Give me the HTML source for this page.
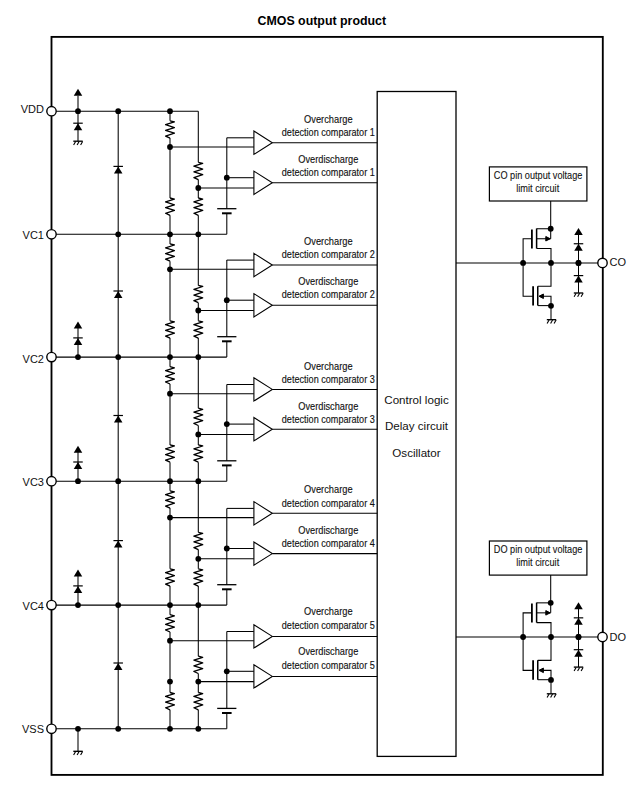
<!DOCTYPE html>
<html><head><meta charset="utf-8"><style>
html,body{margin:0;padding:0;background:#fff;}
svg{display:block;}
text{font-family:"Liberation Sans",sans-serif;}
</style></head><body>
<svg width="640" height="792" viewBox="0 0 640 792" stroke="#000" stroke-linecap="butt">
<text x="321.80" y="24.90" font-size="12" text-anchor="middle" font-weight="bold" fill="#000" stroke="none" textLength="128.5" lengthAdjust="spacingAndGlyphs">CMOS output product</text>
<rect x="51.5" y="36.9" width="551.3" height="738.0" fill="none" stroke="#000" stroke-width="1.85"/>
<line x1="118.20" y1="111.20" x2="118.20" y2="728.80" stroke-width="1.05"/>
<circle cx="118.20" cy="111.20" r="2.9" fill="#000" stroke="none"/>
<circle cx="118.20" cy="234.30" r="2.9" fill="#000" stroke="none"/>
<circle cx="118.20" cy="357.10" r="2.9" fill="#000" stroke="none"/>
<circle cx="118.20" cy="481.20" r="2.9" fill="#000" stroke="none"/>
<circle cx="118.20" cy="605.10" r="2.9" fill="#000" stroke="none"/>
<circle cx="118.20" cy="728.80" r="2.9" fill="#000" stroke="none"/>
<path d="M118.20,166.40 L122.45,173.40 L113.95,173.40Z" fill="#000" stroke="none"/>
<line x1="113.45" y1="166.40" x2="122.95" y2="166.40" stroke-width="1.2"/>
<path d="M118.20,291.00 L122.45,298.00 L113.95,298.00Z" fill="#000" stroke="none"/>
<line x1="113.45" y1="291.00" x2="122.95" y2="291.00" stroke-width="1.2"/>
<path d="M118.20,415.50 L122.45,422.50 L113.95,422.50Z" fill="#000" stroke="none"/>
<line x1="113.45" y1="415.50" x2="122.95" y2="415.50" stroke-width="1.2"/>
<path d="M118.20,540.60 L122.45,547.60 L113.95,547.60Z" fill="#000" stroke="none"/>
<line x1="113.45" y1="540.60" x2="122.95" y2="540.60" stroke-width="1.2"/>
<path d="M118.20,663.00 L122.45,670.00 L113.95,670.00Z" fill="#000" stroke="none"/>
<line x1="113.45" y1="663.00" x2="122.95" y2="663.00" stroke-width="1.2"/>
<line x1="51.50" y1="111.20" x2="198.30" y2="111.20" stroke-width="1.05"/>
<line x1="51.50" y1="234.30" x2="226.80" y2="234.30" stroke-width="1.05"/>
<line x1="51.50" y1="357.10" x2="226.80" y2="357.10" stroke-width="1.05"/>
<line x1="51.50" y1="481.20" x2="226.80" y2="481.20" stroke-width="1.05"/>
<line x1="51.50" y1="605.10" x2="226.80" y2="605.10" stroke-width="1.05"/>
<line x1="51.50" y1="728.80" x2="226.80" y2="728.80" stroke-width="1.05"/>
<line x1="78.00" y1="95.80" x2="78.00" y2="111.20" stroke-width="1.05"/>
<path d="M78.00,88.70 L82.25,95.70 L73.75,95.70Z" fill="#000" stroke="none"/>
<line x1="78.00" y1="111.20" x2="78.00" y2="141.20" stroke-width="1.05"/>
<path d="M78.00,123.20 L82.25,130.20 L73.75,130.20Z" fill="#000" stroke="none"/>
<line x1="73.25" y1="123.20" x2="82.75" y2="123.20" stroke-width="1.2"/>
<line x1="73.30" y1="141.20" x2="82.70" y2="141.20" stroke-width="1.35"/>
<line x1="75.60" y1="141.50" x2="73.60" y2="145.00" stroke-width="1.1"/>
<line x1="79.10" y1="141.50" x2="77.10" y2="145.00" stroke-width="1.1"/>
<line x1="82.60" y1="141.50" x2="80.60" y2="145.00" stroke-width="1.1"/>
<circle cx="78.00" cy="111.20" r="2.9" fill="#000" stroke="none"/>
<line x1="78.00" y1="327.60" x2="78.00" y2="357.10" stroke-width="1.05"/>
<path d="M78.00,321.60 L82.25,328.60 L73.75,328.60Z" fill="#000" stroke="none"/>
<path d="M78.00,337.90 L82.25,344.90 L73.75,344.90Z" fill="#000" stroke="none"/>
<line x1="73.25" y1="337.90" x2="82.75" y2="337.90" stroke-width="1.2"/>
<circle cx="78.00" cy="357.10" r="2.9" fill="#000" stroke="none"/>
<line x1="78.00" y1="451.70" x2="78.00" y2="481.20" stroke-width="1.05"/>
<path d="M78.00,445.70 L82.25,452.70 L73.75,452.70Z" fill="#000" stroke="none"/>
<path d="M78.00,462.00 L82.25,469.00 L73.75,469.00Z" fill="#000" stroke="none"/>
<line x1="73.25" y1="462.00" x2="82.75" y2="462.00" stroke-width="1.2"/>
<circle cx="78.00" cy="481.20" r="2.9" fill="#000" stroke="none"/>
<line x1="78.00" y1="575.60" x2="78.00" y2="605.10" stroke-width="1.05"/>
<path d="M78.00,569.60 L82.25,576.60 L73.75,576.60Z" fill="#000" stroke="none"/>
<path d="M78.00,585.90 L82.25,592.90 L73.75,592.90Z" fill="#000" stroke="none"/>
<line x1="73.25" y1="585.90" x2="82.75" y2="585.90" stroke-width="1.2"/>
<circle cx="78.00" cy="605.10" r="2.9" fill="#000" stroke="none"/>
<line x1="78.00" y1="728.80" x2="78.00" y2="751.30" stroke-width="1.05"/>
<line x1="73.30" y1="751.30" x2="82.70" y2="751.30" stroke-width="1.35"/>
<line x1="75.60" y1="751.60" x2="73.60" y2="755.10" stroke-width="1.1"/>
<line x1="79.10" y1="751.60" x2="77.10" y2="755.10" stroke-width="1.1"/>
<line x1="82.60" y1="751.60" x2="80.60" y2="755.10" stroke-width="1.1"/>
<circle cx="78.00" cy="728.80" r="2.9" fill="#000" stroke="none"/>
<circle cx="170.00" cy="111.20" r="2.9" fill="#000" stroke="none"/>
<line x1="170.00" y1="111.20" x2="170.00" y2="120.80" stroke-width="1.05"/>
<polyline points="170.00,120.80 174.40,121.90 165.60,124.74 174.40,127.57 165.60,130.41 174.40,133.24 165.60,136.08 170.00,138.10" fill="none" stroke-width="1.3" stroke-linejoin="round"/>
<line x1="170.00" y1="138.10" x2="170.00" y2="198.00" stroke-width="1.05"/>
<line x1="170.00" y1="215.30" x2="170.00" y2="234.30" stroke-width="1.05"/>
<circle cx="170.00" cy="147.00" r="2.9" fill="#000" stroke="none"/>
<polyline points="170.00,198.00 174.40,199.10 165.60,201.94 174.40,204.77 165.60,207.61 174.40,210.44 165.60,213.28 170.00,215.30" fill="none" stroke-width="1.3" stroke-linejoin="round"/>
<line x1="198.30" y1="111.20" x2="198.30" y2="162.30" stroke-width="1.05"/>
<polyline points="198.30,162.30 202.70,163.40 193.90,166.24 202.70,169.07 193.90,171.91 202.70,174.74 193.90,177.58 198.30,179.60" fill="none" stroke-width="1.3" stroke-linejoin="round"/>
<line x1="198.30" y1="179.60" x2="198.30" y2="198.00" stroke-width="1.05"/>
<line x1="198.30" y1="215.30" x2="198.30" y2="234.30" stroke-width="1.05"/>
<circle cx="198.30" cy="188.00" r="2.9" fill="#000" stroke="none"/>
<polyline points="198.30,198.00 202.70,199.10 193.90,201.94 202.70,204.77 193.90,207.61 202.70,210.44 193.90,213.28 198.30,215.30" fill="none" stroke-width="1.3" stroke-linejoin="round"/>
<line x1="226.80" y1="137.80" x2="226.80" y2="208.70" stroke-width="1.05"/>
<line x1="217.20" y1="208.70" x2="236.40" y2="208.70" stroke-width="1.3"/>
<line x1="222.00" y1="213.30" x2="231.60" y2="213.30" stroke-width="2.0"/>
<line x1="226.80" y1="213.30" x2="226.80" y2="234.30" stroke-width="1.05"/>
<circle cx="226.80" cy="177.70" r="2.9" fill="#000" stroke="none"/>
<line x1="226.80" y1="137.80" x2="253.90" y2="137.80" stroke-width="1.05"/>
<line x1="170.00" y1="147.00" x2="253.90" y2="147.00" stroke-width="1.05"/>
<line x1="226.80" y1="177.70" x2="253.90" y2="177.70" stroke-width="1.05"/>
<line x1="198.30" y1="188.00" x2="253.90" y2="188.00" stroke-width="1.05"/>
<path d="M253.90,131.05 L272.30,142.70 L253.90,154.35Z" fill="#fff" stroke="#000" stroke-width="1.1"/>
<line x1="272.30" y1="142.70" x2="377.20" y2="142.70" stroke-width="1.05"/>
<path d="M253.90,171.15 L272.30,182.80 L253.90,194.45Z" fill="#fff" stroke="#000" stroke-width="1.1"/>
<line x1="272.30" y1="182.80" x2="377.20" y2="182.80" stroke-width="1.05"/>
<text x="328.30" y="123.10" font-size="11.4" text-anchor="middle" font-weight="normal" fill="#111" stroke="#111" stroke-width="0.15" textLength="48.5" lengthAdjust="spacingAndGlyphs">Overcharge</text>
<text x="328.30" y="136.30" font-size="11.4" text-anchor="middle" font-weight="normal" fill="#111" stroke="#111" stroke-width="0.15" textLength="93" lengthAdjust="spacingAndGlyphs">detection comparator 1</text>
<text x="328.30" y="163.20" font-size="11.4" text-anchor="middle" font-weight="normal" fill="#111" stroke="#111" stroke-width="0.15" textLength="60" lengthAdjust="spacingAndGlyphs">Overdischarge</text>
<text x="328.30" y="176.40" font-size="11.4" text-anchor="middle" font-weight="normal" fill="#111" stroke="#111" stroke-width="0.15" textLength="93" lengthAdjust="spacingAndGlyphs">detection comparator 1</text>
<circle cx="170.00" cy="234.30" r="2.9" fill="#000" stroke="none"/>
<line x1="170.00" y1="234.30" x2="170.00" y2="243.90" stroke-width="1.05"/>
<polyline points="170.00,243.90 174.40,245.00 165.60,247.84 174.40,250.67 165.60,253.51 174.40,256.34 165.60,259.18 170.00,261.20" fill="none" stroke-width="1.3" stroke-linejoin="round"/>
<line x1="170.00" y1="261.20" x2="170.00" y2="320.80" stroke-width="1.05"/>
<line x1="170.00" y1="338.10" x2="170.00" y2="357.10" stroke-width="1.05"/>
<circle cx="170.00" cy="269.30" r="2.9" fill="#000" stroke="none"/>
<polyline points="170.00,320.80 174.40,321.90 165.60,324.74 174.40,327.57 165.60,330.41 174.40,333.24 165.60,336.08 170.00,338.10" fill="none" stroke-width="1.3" stroke-linejoin="round"/>
<circle cx="198.30" cy="234.30" r="2.9" fill="#000" stroke="none"/>
<line x1="198.30" y1="234.30" x2="198.30" y2="285.40" stroke-width="1.05"/>
<polyline points="198.30,285.40 202.70,286.50 193.90,289.34 202.70,292.17 193.90,295.01 202.70,297.84 193.90,300.68 198.30,302.70" fill="none" stroke-width="1.3" stroke-linejoin="round"/>
<line x1="198.30" y1="302.70" x2="198.30" y2="320.80" stroke-width="1.05"/>
<line x1="198.30" y1="338.10" x2="198.30" y2="357.10" stroke-width="1.05"/>
<circle cx="198.30" cy="310.50" r="2.9" fill="#000" stroke="none"/>
<polyline points="198.30,320.80 202.70,321.90 193.90,324.74 202.70,327.57 193.90,330.41 202.70,333.24 193.90,336.08 198.30,338.10" fill="none" stroke-width="1.3" stroke-linejoin="round"/>
<line x1="226.80" y1="260.10" x2="226.80" y2="336.70" stroke-width="1.05"/>
<line x1="217.20" y1="336.70" x2="236.40" y2="336.70" stroke-width="1.3"/>
<line x1="222.00" y1="341.30" x2="231.60" y2="341.30" stroke-width="2.0"/>
<line x1="226.80" y1="341.30" x2="226.80" y2="357.10" stroke-width="1.05"/>
<circle cx="226.80" cy="300.20" r="2.9" fill="#000" stroke="none"/>
<line x1="226.80" y1="260.10" x2="253.90" y2="260.10" stroke-width="1.05"/>
<line x1="170.00" y1="269.30" x2="253.90" y2="269.30" stroke-width="1.05"/>
<line x1="226.80" y1="300.20" x2="253.90" y2="300.20" stroke-width="1.05"/>
<line x1="198.30" y1="310.50" x2="253.90" y2="310.50" stroke-width="1.05"/>
<path d="M253.90,253.35 L272.30,265.00 L253.90,276.65Z" fill="#fff" stroke="#000" stroke-width="1.1"/>
<line x1="272.30" y1="265.00" x2="377.20" y2="265.00" stroke-width="1.05"/>
<path d="M253.90,293.65 L272.30,305.30 L253.90,316.95Z" fill="#fff" stroke="#000" stroke-width="1.1"/>
<line x1="272.30" y1="305.30" x2="377.20" y2="305.30" stroke-width="1.05"/>
<text x="328.30" y="244.90" font-size="11.4" text-anchor="middle" font-weight="normal" fill="#111" stroke="#111" stroke-width="0.15" textLength="48.5" lengthAdjust="spacingAndGlyphs">Overcharge</text>
<text x="328.30" y="258.10" font-size="11.4" text-anchor="middle" font-weight="normal" fill="#111" stroke="#111" stroke-width="0.15" textLength="93" lengthAdjust="spacingAndGlyphs">detection comparator 2</text>
<text x="328.30" y="285.20" font-size="11.4" text-anchor="middle" font-weight="normal" fill="#111" stroke="#111" stroke-width="0.15" textLength="60" lengthAdjust="spacingAndGlyphs">Overdischarge</text>
<text x="328.30" y="298.40" font-size="11.4" text-anchor="middle" font-weight="normal" fill="#111" stroke="#111" stroke-width="0.15" textLength="93" lengthAdjust="spacingAndGlyphs">detection comparator 2</text>
<circle cx="170.00" cy="357.10" r="2.9" fill="#000" stroke="none"/>
<line x1="170.00" y1="357.10" x2="170.00" y2="366.70" stroke-width="1.05"/>
<polyline points="170.00,366.70 174.40,367.80 165.60,370.64 174.40,373.47 165.60,376.31 174.40,379.14 165.60,381.98 170.00,384.00" fill="none" stroke-width="1.3" stroke-linejoin="round"/>
<line x1="170.00" y1="384.00" x2="170.00" y2="444.90" stroke-width="1.05"/>
<line x1="170.00" y1="462.20" x2="170.00" y2="481.20" stroke-width="1.05"/>
<circle cx="170.00" cy="393.70" r="2.9" fill="#000" stroke="none"/>
<polyline points="170.00,444.90 174.40,446.00 165.60,448.84 174.40,451.67 165.60,454.51 174.40,457.34 165.60,460.18 170.00,462.20" fill="none" stroke-width="1.3" stroke-linejoin="round"/>
<circle cx="198.30" cy="357.10" r="2.9" fill="#000" stroke="none"/>
<line x1="198.30" y1="357.10" x2="198.30" y2="408.20" stroke-width="1.05"/>
<polyline points="198.30,408.20 202.70,409.30 193.90,412.14 202.70,414.97 193.90,417.81 202.70,420.64 193.90,423.48 198.30,425.50" fill="none" stroke-width="1.3" stroke-linejoin="round"/>
<line x1="198.30" y1="425.50" x2="198.30" y2="444.90" stroke-width="1.05"/>
<line x1="198.30" y1="462.20" x2="198.30" y2="481.20" stroke-width="1.05"/>
<circle cx="198.30" cy="434.40" r="2.9" fill="#000" stroke="none"/>
<polyline points="198.30,444.90 202.70,446.00 193.90,448.84 202.70,451.67 193.90,454.51 202.70,457.34 193.90,460.18 198.30,462.20" fill="none" stroke-width="1.3" stroke-linejoin="round"/>
<line x1="226.80" y1="384.50" x2="226.80" y2="460.80" stroke-width="1.05"/>
<line x1="217.20" y1="460.80" x2="236.40" y2="460.80" stroke-width="1.3"/>
<line x1="222.00" y1="465.40" x2="231.60" y2="465.40" stroke-width="2.0"/>
<line x1="226.80" y1="465.40" x2="226.80" y2="481.20" stroke-width="1.05"/>
<circle cx="226.80" cy="424.10" r="2.9" fill="#000" stroke="none"/>
<line x1="226.80" y1="384.50" x2="253.90" y2="384.50" stroke-width="1.05"/>
<line x1="170.00" y1="393.70" x2="253.90" y2="393.70" stroke-width="1.05"/>
<line x1="226.80" y1="424.10" x2="253.90" y2="424.10" stroke-width="1.05"/>
<line x1="198.30" y1="434.40" x2="253.90" y2="434.40" stroke-width="1.05"/>
<path d="M253.90,377.75 L272.30,389.40 L253.90,401.05Z" fill="#fff" stroke="#000" stroke-width="1.1"/>
<line x1="272.30" y1="389.40" x2="377.20" y2="389.40" stroke-width="1.05"/>
<path d="M253.90,417.55 L272.30,429.20 L253.90,440.85Z" fill="#fff" stroke="#000" stroke-width="1.1"/>
<line x1="272.30" y1="429.20" x2="377.20" y2="429.20" stroke-width="1.05"/>
<text x="328.30" y="369.90" font-size="11.4" text-anchor="middle" font-weight="normal" fill="#111" stroke="#111" stroke-width="0.15" textLength="48.5" lengthAdjust="spacingAndGlyphs">Overcharge</text>
<text x="328.30" y="383.10" font-size="11.4" text-anchor="middle" font-weight="normal" fill="#111" stroke="#111" stroke-width="0.15" textLength="93" lengthAdjust="spacingAndGlyphs">detection comparator 3</text>
<text x="328.30" y="409.70" font-size="11.4" text-anchor="middle" font-weight="normal" fill="#111" stroke="#111" stroke-width="0.15" textLength="60" lengthAdjust="spacingAndGlyphs">Overdischarge</text>
<text x="328.30" y="422.90" font-size="11.4" text-anchor="middle" font-weight="normal" fill="#111" stroke="#111" stroke-width="0.15" textLength="93" lengthAdjust="spacingAndGlyphs">detection comparator 3</text>
<circle cx="170.00" cy="481.20" r="2.9" fill="#000" stroke="none"/>
<line x1="170.00" y1="481.20" x2="170.00" y2="490.80" stroke-width="1.05"/>
<polyline points="170.00,490.80 174.40,491.90 165.60,494.74 174.40,497.57 165.60,500.41 174.40,503.24 165.60,506.08 170.00,508.10" fill="none" stroke-width="1.3" stroke-linejoin="round"/>
<line x1="170.00" y1="508.10" x2="170.00" y2="568.80" stroke-width="1.05"/>
<line x1="170.00" y1="586.10" x2="170.00" y2="605.10" stroke-width="1.05"/>
<circle cx="170.00" cy="517.60" r="2.9" fill="#000" stroke="none"/>
<polyline points="170.00,568.80 174.40,569.90 165.60,572.74 174.40,575.57 165.60,578.41 174.40,581.24 165.60,584.08 170.00,586.10" fill="none" stroke-width="1.3" stroke-linejoin="round"/>
<circle cx="198.30" cy="481.20" r="2.9" fill="#000" stroke="none"/>
<line x1="198.30" y1="481.20" x2="198.30" y2="532.30" stroke-width="1.05"/>
<polyline points="198.30,532.30 202.70,533.40 193.90,536.24 202.70,539.07 193.90,541.91 202.70,544.74 193.90,547.58 198.30,549.60" fill="none" stroke-width="1.3" stroke-linejoin="round"/>
<line x1="198.30" y1="549.60" x2="198.30" y2="568.80" stroke-width="1.05"/>
<line x1="198.30" y1="586.10" x2="198.30" y2="605.10" stroke-width="1.05"/>
<circle cx="198.30" cy="558.80" r="2.9" fill="#000" stroke="none"/>
<polyline points="198.30,568.80 202.70,569.90 193.90,572.74 202.70,575.57 193.90,578.41 202.70,581.24 193.90,584.08 198.30,586.10" fill="none" stroke-width="1.3" stroke-linejoin="round"/>
<line x1="226.80" y1="508.40" x2="226.80" y2="584.70" stroke-width="1.05"/>
<line x1="217.20" y1="584.70" x2="236.40" y2="584.70" stroke-width="1.3"/>
<line x1="222.00" y1="589.30" x2="231.60" y2="589.30" stroke-width="2.0"/>
<line x1="226.80" y1="589.30" x2="226.80" y2="605.10" stroke-width="1.05"/>
<circle cx="226.80" cy="548.50" r="2.9" fill="#000" stroke="none"/>
<line x1="226.80" y1="508.40" x2="253.90" y2="508.40" stroke-width="1.05"/>
<line x1="170.00" y1="517.60" x2="253.90" y2="517.60" stroke-width="1.05"/>
<line x1="226.80" y1="548.50" x2="253.90" y2="548.50" stroke-width="1.05"/>
<line x1="198.30" y1="558.80" x2="253.90" y2="558.80" stroke-width="1.05"/>
<path d="M253.90,501.65 L272.30,513.30 L253.90,524.95Z" fill="#fff" stroke="#000" stroke-width="1.1"/>
<line x1="272.30" y1="513.30" x2="377.20" y2="513.30" stroke-width="1.05"/>
<path d="M253.90,541.95 L272.30,553.60 L253.90,565.25Z" fill="#fff" stroke="#000" stroke-width="1.1"/>
<line x1="272.30" y1="553.60" x2="377.20" y2="553.60" stroke-width="1.05"/>
<text x="328.30" y="493.30" font-size="11.4" text-anchor="middle" font-weight="normal" fill="#111" stroke="#111" stroke-width="0.15" textLength="48.5" lengthAdjust="spacingAndGlyphs">Overcharge</text>
<text x="328.30" y="506.50" font-size="11.4" text-anchor="middle" font-weight="normal" fill="#111" stroke="#111" stroke-width="0.15" textLength="93" lengthAdjust="spacingAndGlyphs">detection comparator 4</text>
<text x="328.30" y="533.60" font-size="11.4" text-anchor="middle" font-weight="normal" fill="#111" stroke="#111" stroke-width="0.15" textLength="60" lengthAdjust="spacingAndGlyphs">Overdischarge</text>
<text x="328.30" y="546.80" font-size="11.4" text-anchor="middle" font-weight="normal" fill="#111" stroke="#111" stroke-width="0.15" textLength="93" lengthAdjust="spacingAndGlyphs">detection comparator 4</text>
<circle cx="170.00" cy="605.10" r="2.9" fill="#000" stroke="none"/>
<line x1="170.00" y1="605.10" x2="170.00" y2="614.70" stroke-width="1.05"/>
<polyline points="170.00,614.70 174.40,615.80 165.60,618.64 174.40,621.47 165.60,624.31 174.40,627.14 165.60,629.98 170.00,632.00" fill="none" stroke-width="1.3" stroke-linejoin="round"/>
<line x1="170.00" y1="632.00" x2="170.00" y2="692.50" stroke-width="1.05"/>
<line x1="170.00" y1="709.80" x2="170.00" y2="728.80" stroke-width="1.05"/>
<circle cx="170.00" cy="640.70" r="2.9" fill="#000" stroke="none"/>
<polyline points="170.00,692.50 174.40,693.60 165.60,696.44 174.40,699.27 165.60,702.11 174.40,704.94 165.60,707.78 170.00,709.80" fill="none" stroke-width="1.3" stroke-linejoin="round"/>
<circle cx="198.30" cy="605.10" r="2.9" fill="#000" stroke="none"/>
<line x1="198.30" y1="605.10" x2="198.30" y2="656.20" stroke-width="1.05"/>
<polyline points="198.30,656.20 202.70,657.30 193.90,660.14 202.70,662.97 193.90,665.81 202.70,668.64 193.90,671.48 198.30,673.50" fill="none" stroke-width="1.3" stroke-linejoin="round"/>
<line x1="198.30" y1="673.50" x2="198.30" y2="692.50" stroke-width="1.05"/>
<line x1="198.30" y1="709.80" x2="198.30" y2="728.80" stroke-width="1.05"/>
<circle cx="198.30" cy="681.60" r="2.9" fill="#000" stroke="none"/>
<polyline points="198.30,692.50 202.70,693.60 193.90,696.44 202.70,699.27 193.90,702.11 202.70,704.94 193.90,707.78 198.30,709.80" fill="none" stroke-width="1.3" stroke-linejoin="round"/>
<circle cx="170.00" cy="681.60" r="2.9" fill="#000" stroke="none"/>
<line x1="226.80" y1="631.50" x2="226.80" y2="708.40" stroke-width="1.05"/>
<line x1="217.20" y1="708.40" x2="236.40" y2="708.40" stroke-width="1.3"/>
<line x1="222.00" y1="713.00" x2="231.60" y2="713.00" stroke-width="2.0"/>
<line x1="226.80" y1="713.00" x2="226.80" y2="728.80" stroke-width="1.05"/>
<circle cx="226.80" cy="671.30" r="2.9" fill="#000" stroke="none"/>
<line x1="226.80" y1="631.50" x2="253.90" y2="631.50" stroke-width="1.05"/>
<line x1="170.00" y1="640.70" x2="253.90" y2="640.70" stroke-width="1.05"/>
<line x1="226.80" y1="671.30" x2="253.90" y2="671.30" stroke-width="1.05"/>
<line x1="198.30" y1="681.60" x2="253.90" y2="681.60" stroke-width="1.05"/>
<path d="M253.90,624.75 L272.30,636.40 L253.90,648.05Z" fill="#fff" stroke="#000" stroke-width="1.1"/>
<line x1="272.30" y1="636.40" x2="377.20" y2="636.40" stroke-width="1.05"/>
<path d="M253.90,664.75 L272.30,676.40 L253.90,688.05Z" fill="#fff" stroke="#000" stroke-width="1.1"/>
<line x1="272.30" y1="676.40" x2="377.20" y2="676.40" stroke-width="1.05"/>
<text x="328.30" y="615.30" font-size="11.4" text-anchor="middle" font-weight="normal" fill="#111" stroke="#111" stroke-width="0.15" textLength="48.5" lengthAdjust="spacingAndGlyphs">Overcharge</text>
<text x="328.30" y="628.50" font-size="11.4" text-anchor="middle" font-weight="normal" fill="#111" stroke="#111" stroke-width="0.15" textLength="93" lengthAdjust="spacingAndGlyphs">detection comparator 5</text>
<text x="328.30" y="655.30" font-size="11.4" text-anchor="middle" font-weight="normal" fill="#111" stroke="#111" stroke-width="0.15" textLength="60" lengthAdjust="spacingAndGlyphs">Overdischarge</text>
<text x="328.30" y="668.50" font-size="11.4" text-anchor="middle" font-weight="normal" fill="#111" stroke="#111" stroke-width="0.15" textLength="93" lengthAdjust="spacingAndGlyphs">detection comparator 5</text>
<circle cx="170.00" cy="728.80" r="2.9" fill="#000" stroke="none"/>
<circle cx="198.30" cy="728.80" r="2.9" fill="#000" stroke="none"/>
<rect x="377.2" y="91.5" width="78.80000000000001" height="664.9" fill="none" stroke="#000" stroke-width="1.3"/>
<text x="416.50" y="403.75" font-size="11.6" text-anchor="middle" font-weight="normal" fill="#111" stroke="none">Control logic</text>
<text x="416.50" y="429.70" font-size="11.6" text-anchor="middle" font-weight="normal" fill="#111" stroke="none">Delay circuit</text>
<text x="416.50" y="456.60" font-size="11.6" text-anchor="middle" font-weight="normal" fill="#111" stroke="none">Oscillator</text>
<line x1="456.00" y1="262.90" x2="602.50" y2="262.90" stroke-width="1.05"/>
<circle cx="523.10" cy="262.90" r="2.9" fill="#000" stroke="none"/>
<circle cx="551.00" cy="262.90" r="2.9" fill="#000" stroke="none"/>
<circle cx="578.50" cy="262.90" r="2.9" fill="#000" stroke="none"/>
<rect x="489.4" y="166.90" width="97.5" height="34.1" fill="#fff" stroke="#000" stroke-width="1.2"/>
<text x="538.10" y="178.50" font-size="10.5" text-anchor="middle" font-weight="normal" fill="#111" stroke="#111" stroke-width="0.1" textLength="88.5" lengthAdjust="spacingAndGlyphs">CO pin output voltage</text>
<text x="537.70" y="191.60" font-size="10.5" text-anchor="middle" font-weight="normal" fill="#111" stroke="#111" stroke-width="0.1" textLength="43" lengthAdjust="spacingAndGlyphs">limit circuit</text>
<line x1="550.70" y1="201.00" x2="550.70" y2="228.75" stroke-width="1.05"/>
<circle cx="550.70" cy="228.75" r="2.9" fill="#000" stroke="none"/>
<line x1="550.70" y1="228.75" x2="550.70" y2="238.75" stroke-width="1.05"/>
<line x1="536.60" y1="228.75" x2="550.70" y2="228.75" stroke-width="1.05"/>
<line x1="536.60" y1="228.50" x2="536.60" y2="248.50" stroke-width="1.5"/>
<line x1="531.90" y1="229.40" x2="531.90" y2="248.50" stroke-width="1.8"/>
<polyline points="523.10,262.90 523.10,238.75 531.90,238.75" fill="none" stroke-width="1.05"/>
<line x1="536.60" y1="238.75" x2="550.70" y2="238.75" stroke-width="1.05"/>
<path d="M550.2,238.75 L545.8,236.50 L545.8,241.00Z" fill="#000"/>
<polyline points="536.60,248.50 551.00,248.50 551.00,262.90" fill="none" stroke-width="1.05"/>
<polyline points="523.10,262.90 523.10,296.25 533.10,296.25" fill="none" stroke-width="1.05"/>
<line x1="533.10" y1="286.25" x2="533.10" y2="305.60" stroke-width="1.8"/>
<line x1="537.75" y1="286.25" x2="537.75" y2="305.60" stroke-width="1.5"/>
<polyline points="537.75,286.25 551.00,286.25 551.00,262.90" fill="none" stroke-width="1.05"/>
<polyline points="539.50,296.25 551.00,296.25 551.00,305.80" fill="none" stroke-width="1.05"/>
<path d="M539.0,296.25 L543.4,294.00 L543.4,298.50Z" fill="#000"/>
<line x1="537.75" y1="305.60" x2="551.00" y2="305.60" stroke-width="1.05"/>
<circle cx="551.00" cy="305.80" r="2.9" fill="#000" stroke="none"/>
<line x1="551.00" y1="305.80" x2="551.00" y2="319.70" stroke-width="1.05"/>
<line x1="546.80" y1="319.70" x2="556.20" y2="319.70" stroke-width="1.35"/>
<line x1="549.10" y1="320.00" x2="547.10" y2="323.50" stroke-width="1.1"/>
<line x1="552.60" y1="320.00" x2="550.60" y2="323.50" stroke-width="1.1"/>
<line x1="556.10" y1="320.00" x2="554.10" y2="323.50" stroke-width="1.1"/>
<line x1="578.50" y1="233.90" x2="578.50" y2="292.90" stroke-width="1.05"/>
<path d="M578.50,228.10 L582.75,235.10 L574.25,235.10Z" fill="#000" stroke="none"/>
<path d="M578.50,243.75 L582.75,250.75 L574.25,250.75Z" fill="#000" stroke="none"/>
<line x1="573.75" y1="243.75" x2="583.25" y2="243.75" stroke-width="1.2"/>
<path d="M578.50,275.60 L582.75,282.60 L574.25,282.60Z" fill="#000" stroke="none"/>
<line x1="573.75" y1="275.60" x2="583.25" y2="275.60" stroke-width="1.2"/>
<line x1="573.80" y1="293.00" x2="583.20" y2="293.00" stroke-width="1.35"/>
<line x1="576.10" y1="293.30" x2="574.10" y2="296.80" stroke-width="1.1"/>
<line x1="579.60" y1="293.30" x2="577.60" y2="296.80" stroke-width="1.1"/>
<line x1="583.10" y1="293.30" x2="581.10" y2="296.80" stroke-width="1.1"/>
<circle cx="578.50" cy="262.90" r="2.9" fill="#000" stroke="none"/>
<circle cx="602.50" cy="262.90" r="4.7" fill="#fff" stroke="#000" stroke-width="1.4"/>
<text x="609.50" y="265.80" font-size="11" text-anchor="start" font-weight="normal" fill="#111" stroke="none">CO</text>
<line x1="456.00" y1="637.00" x2="602.50" y2="637.00" stroke-width="1.05"/>
<circle cx="523.10" cy="637.00" r="2.9" fill="#000" stroke="none"/>
<circle cx="551.00" cy="637.00" r="2.9" fill="#000" stroke="none"/>
<circle cx="578.50" cy="637.00" r="2.9" fill="#000" stroke="none"/>
<rect x="489.4" y="541.00" width="97.5" height="34.1" fill="#fff" stroke="#000" stroke-width="1.2"/>
<text x="538.10" y="552.60" font-size="10.5" text-anchor="middle" font-weight="normal" fill="#111" stroke="#111" stroke-width="0.1" textLength="88.5" lengthAdjust="spacingAndGlyphs">DO pin output voltage</text>
<text x="537.70" y="565.70" font-size="10.5" text-anchor="middle" font-weight="normal" fill="#111" stroke="#111" stroke-width="0.1" textLength="43" lengthAdjust="spacingAndGlyphs">limit circuit</text>
<line x1="550.70" y1="575.10" x2="550.70" y2="602.85" stroke-width="1.05"/>
<circle cx="550.70" cy="602.85" r="2.9" fill="#000" stroke="none"/>
<line x1="550.70" y1="602.85" x2="550.70" y2="612.85" stroke-width="1.05"/>
<line x1="536.60" y1="602.85" x2="550.70" y2="602.85" stroke-width="1.05"/>
<line x1="536.60" y1="602.60" x2="536.60" y2="622.60" stroke-width="1.5"/>
<line x1="531.90" y1="603.50" x2="531.90" y2="622.60" stroke-width="1.8"/>
<polyline points="523.10,637.00 523.10,612.85 531.90,612.85" fill="none" stroke-width="1.05"/>
<line x1="536.60" y1="612.85" x2="550.70" y2="612.85" stroke-width="1.05"/>
<path d="M550.2,612.85 L545.8,610.60 L545.8,615.10Z" fill="#000"/>
<polyline points="536.60,622.60 551.00,622.60 551.00,637.00" fill="none" stroke-width="1.05"/>
<polyline points="523.10,637.00 523.10,670.35 533.10,670.35" fill="none" stroke-width="1.05"/>
<line x1="533.10" y1="660.35" x2="533.10" y2="679.70" stroke-width="1.8"/>
<line x1="537.75" y1="660.35" x2="537.75" y2="679.70" stroke-width="1.5"/>
<polyline points="537.75,660.35 551.00,660.35 551.00,637.00" fill="none" stroke-width="1.05"/>
<polyline points="539.50,670.35 551.00,670.35 551.00,679.90" fill="none" stroke-width="1.05"/>
<path d="M539.0,670.35 L543.4,668.10 L543.4,672.60Z" fill="#000"/>
<line x1="537.75" y1="679.70" x2="551.00" y2="679.70" stroke-width="1.05"/>
<circle cx="551.00" cy="679.90" r="2.9" fill="#000" stroke="none"/>
<line x1="551.00" y1="679.90" x2="551.00" y2="693.80" stroke-width="1.05"/>
<line x1="546.80" y1="693.80" x2="556.20" y2="693.80" stroke-width="1.35"/>
<line x1="549.10" y1="694.10" x2="547.10" y2="697.60" stroke-width="1.1"/>
<line x1="552.60" y1="694.10" x2="550.60" y2="697.60" stroke-width="1.1"/>
<line x1="556.10" y1="694.10" x2="554.10" y2="697.60" stroke-width="1.1"/>
<line x1="578.50" y1="608.00" x2="578.50" y2="667.00" stroke-width="1.05"/>
<path d="M578.50,602.20 L582.75,609.20 L574.25,609.20Z" fill="#000" stroke="none"/>
<path d="M578.50,617.85 L582.75,624.85 L574.25,624.85Z" fill="#000" stroke="none"/>
<line x1="573.75" y1="617.85" x2="583.25" y2="617.85" stroke-width="1.2"/>
<path d="M578.50,649.70 L582.75,656.70 L574.25,656.70Z" fill="#000" stroke="none"/>
<line x1="573.75" y1="649.70" x2="583.25" y2="649.70" stroke-width="1.2"/>
<line x1="573.80" y1="667.10" x2="583.20" y2="667.10" stroke-width="1.35"/>
<line x1="576.10" y1="667.40" x2="574.10" y2="670.90" stroke-width="1.1"/>
<line x1="579.60" y1="667.40" x2="577.60" y2="670.90" stroke-width="1.1"/>
<line x1="583.10" y1="667.40" x2="581.10" y2="670.90" stroke-width="1.1"/>
<circle cx="578.50" cy="637.00" r="2.9" fill="#000" stroke="none"/>
<circle cx="602.50" cy="637.00" r="4.7" fill="#fff" stroke="#000" stroke-width="1.4"/>
<text x="609.50" y="640.90" font-size="11" text-anchor="start" font-weight="normal" fill="#111" stroke="none">DO</text>
<circle cx="51.50" cy="111.20" r="4.7" fill="#fff" stroke="#000" stroke-width="1.4"/>
<text x="44.00" y="113.40" font-size="11" text-anchor="end" font-weight="normal" fill="#111" stroke="none">VDD</text>
<circle cx="51.50" cy="234.30" r="4.7" fill="#fff" stroke="#000" stroke-width="1.4"/>
<text x="44.00" y="238.60" font-size="11" text-anchor="end" font-weight="normal" fill="#111" stroke="none">VC1</text>
<circle cx="51.50" cy="357.10" r="4.7" fill="#fff" stroke="#000" stroke-width="1.4"/>
<text x="44.00" y="362.60" font-size="11" text-anchor="end" font-weight="normal" fill="#111" stroke="none">VC2</text>
<circle cx="51.50" cy="481.20" r="4.7" fill="#fff" stroke="#000" stroke-width="1.4"/>
<text x="44.00" y="485.60" font-size="11" text-anchor="end" font-weight="normal" fill="#111" stroke="none">VC3</text>
<circle cx="51.50" cy="605.10" r="4.7" fill="#fff" stroke="#000" stroke-width="1.4"/>
<text x="44.00" y="609.60" font-size="11" text-anchor="end" font-weight="normal" fill="#111" stroke="none">VC4</text>
<circle cx="51.50" cy="728.80" r="4.7" fill="#fff" stroke="#000" stroke-width="1.4"/>
<text x="44.00" y="732.60" font-size="11" text-anchor="end" font-weight="normal" fill="#111" stroke="none">VSS</text>
</svg>
</body></html>
